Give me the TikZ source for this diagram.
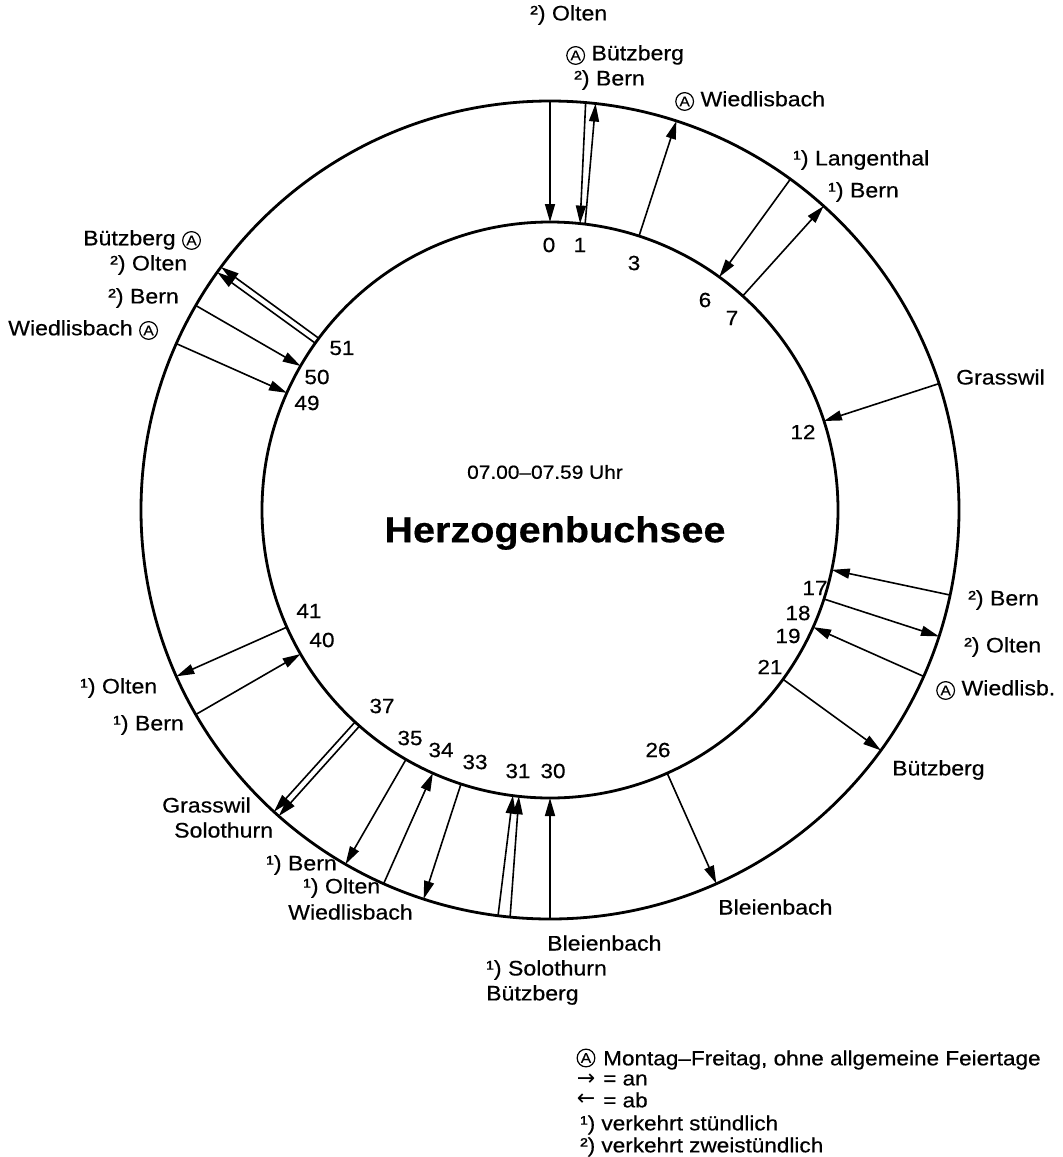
\documentclass[tikz,border=0pt]{standalone}
\usepackage{fontspec}
\setmainfont{Liberation Sans}[FakeStretch=1.1,FakeBold=0.5]
\newfontfamily\symfont{DejaVu Sans}
\usetikzlibrary{arrows.meta,calc}
\newcommand{\circA}{\tikz[x=1pt,y=1pt,baseline=(ca.base)]\node[draw,circle,line width=1.2pt,inner sep=1.3pt,font=\fontsize{14}{14}\selectfont] (ca) {A};}
\begin{document}
\begin{tikzpicture}[x=1pt,y=-1pt,line join=round,
  ring/.style={line width=2.8pt},
  arr/.style={line width=1.6pt,-{Triangle[length=18pt,width=10pt]}},
  lab/.style={inner sep=0pt,font=\fontsize{21}{23}\selectfont},
  num/.style={inner sep=0pt,font=\fontsize{20.5}{22}\selectfont},
  leg/.style={inner sep=0pt,font=\fontsize{20.5}{22}\selectfont}]
\useasboundingbox (0,0) rectangle (1063,1157);
\coordinate (C) at (550,510);
\draw[ring] (C) circle[radius=409];
\draw[ring] (C) circle[radius=288];
% single arrows, tip at inner circle
\foreach \m in {0,6,12,17,19,30,34,40,49,50}{
  \coordinate (i\m) at ($(C)+(6*\m-90:288)$);
  \coordinate (o\m) at ($(C)+(6*\m-90:409)$);
  \draw[arr] (o\m) -- (i\m);
}
% single arrows, tip at outer circle
\foreach \m in {3,7,18,21,26,33,35,41}{
  \coordinate (i\m) at ($(C)+(6*\m-90:288)$);
  \coordinate (o\m) at ($(C)+(6*\m-90:409)$);
  \draw[arr] (i\m) -- (o\m);
}
% double lines
\coordinate (i1a) at ($(C)+(6-90:288)$);   \coordinate (o1a) at ($(C)+(5-90:409)$);
\coordinate (i1b) at ($(C)+(7-90:288)$);   \coordinate (o1b) at ($(C)+(6.4-90:409)$);
\draw[arr] (o1a) -- (i1a);
\draw[arr] (i1b) -- (o1b);
\coordinate (i31a) at ($(C)+(186.2-90:288)$); \coordinate (o31a) at ($(C)+(185.6-90:409)$);
\coordinate (i31b) at ($(C)+(187.4-90:288)$); \coordinate (o31b) at ($(C)+(187.3-90:409)$);
\draw[arr] (o31a) -- (i31a);
\draw[arr] (o31b) -- (i31b);
\coordinate (i37a) at ($(C)+(221.4-90:288)$); \coordinate (o37a) at ($(C)+(221.55-90:409)$);
\coordinate (i37b) at ($(C)+(222.6-90:288)$); \coordinate (o37b) at ($(C)+(222.45-90:409)$);
\draw[arr] (i37a) -- (o37a);
\draw[arr] (i37b) -- (o37b);
\coordinate (i51a) at ($(C)+(305.4-90:288)$); \coordinate (o51a) at ($(C)+(305.55-90:409)$);
\coordinate (i51b) at ($(C)+(306.6-90:288)$); \coordinate (o51b) at ($(C)+(306.45-90:409)$);
\draw[arr] (i51a) -- (o51a);
\draw[arr] (i51b) -- (o51b);
% minute numbers
\foreach \n/\x/\y in {0/549/245,1/580/245,3/634/263,6/705/300,7/732/318,12/803/432,
  17/815/588,18/798/613,19/788/636,21/770/667,26/658/750,30/553/771,31/518/771,
  33/475/762,34/441/750,35/410/738,37/382/706,40/322/640,41/309/611,49/307/403,
  50/317/377,51/342/348}{
  \node[num] (n\n) at (\x,\y) {\n};
}
% station labels
\node[lab,anchor=west] (a1) at (530,15) {²) Olten};
\node[lab,anchor=west] (a2) at (566,55) {\circA\ Bützberg};
\node[lab,anchor=west] (a3) at (574,80) {²) Bern};
\node[lab,anchor=west] (a4) at (675,101) {\circA\ Wiedlisbach};
\node[lab,anchor=west] (a5) at (793,160) {¹) Langenthal};
\node[lab,anchor=west] (a6) at (828,192) {¹) Bern};
\node[lab,anchor=west] (a7) at (956,377) {Grasswil};
\node[lab,anchor=west] (a8) at (968,600) {²) Bern};
\node[lab,anchor=west] (a9) at (964,647) {²) Olten};
\node[lab,anchor=west] (a10) at (936,690) {\circA\ Wiedlisb.};
\node[lab,anchor=west] (a11) at (892,770) {Bützberg};
\node[lab,anchor=west] (a12) at (718,907) {Bleienbach};
\node[lab,anchor=west] (a13) at (547,943) {Bleienbach};
\node[lab,anchor=west] (a14) at (486,970) {¹) Solothurn};
\node[lab,anchor=west] (a15) at (486,995) {Bützberg};
\node[lab,anchor=west] (a16) at (288,912) {Wiedlisbach};
\node[lab,anchor=west] (a17) at (303,888) {¹) Olten};
\node[lab,anchor=west] (a18) at (266,865) {¹) Bern};
\node[lab,anchor=west] (a19) at (162,805) {Grasswil};
\node[lab,anchor=west] (a20) at (174,830) {Solothurn};
\node[lab,anchor=west] (a21) at (113,725) {¹) Bern};
\node[lab,anchor=west] (a22) at (80,688) {¹) Olten};
\node[lab,anchor=west] (a23) at (8,330) {Wiedlisbach \circA};
\node[lab,anchor=west] (a24) at (108,298) {²) Bern};
\node[lab,anchor=west] (a25) at (110,265) {²) Olten};
\node[lab,anchor=west] (a26) at (83,240) {Bützberg \circA};
% centre
\node[inner sep=0pt,font=\fontsize{19}{21}\selectfont] (time) at (545,472) {07.00–07.59 Uhr};
\node[inner sep=0pt,font=\fontsize{36}{40}\selectfont\bfseries] (title) at (555,533) {Herzogenbuchsee};
% legend
\node[leg] (k1) at (586,1058) {\circA};
\node[leg,anchor=west] (t1) at (603,1060) {Montag–Freitag, ohne allgemeine Feiertage};
\node[leg] (k2) at (586,1080) {\symfont\fontsize{22}{22}\selectfont →};
\node[leg,anchor=west] (t2) at (603,1080) {= an};
\node[leg] (k3) at (586,1100) {\symfont\fontsize{22}{22}\selectfont ←};
\node[leg,anchor=west] (t3) at (603,1100) {= ab};
\node[leg,anchor=west] (t4) at (580,1125) {¹) verkehrt stündlich};
\node[leg,anchor=west] (t5) at (580,1147) {²) verkehrt zweistündlich};
\end{tikzpicture}
\end{document}
